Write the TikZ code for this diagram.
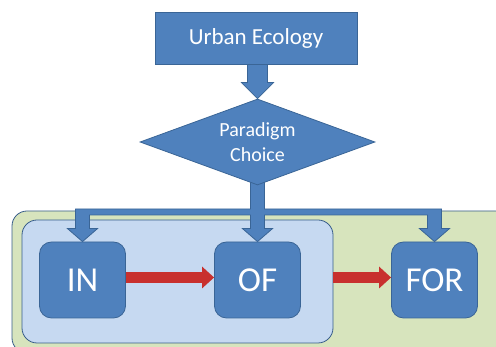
\documentclass[tikz,border=0pt]{standalone}
\usepackage{fontspec}
\setmainfont{Carlito}
\usetikzlibrary{shapes.geometric,arrows.meta,calc}
\definecolor{boxfill}{HTML}{4F81BD}
\definecolor{boxline}{HTML}{3A6596}
\definecolor{paleblue}{HTML}{C6D9F1}
\definecolor{palegreen}{HTML}{D7E4BD}
\definecolor{frameline}{HTML}{385D8A}
\definecolor{redarrow}{HTML}{C8302E}
\pgfdeclarelayer{bg}
\pgfdeclarelayer{under}
\pgfsetlayers{bg,under,main}
\tikzset{
  titlebox/.style={draw=boxline, fill=boxfill, line width=0.8pt, minimum width=202pt, minimum height=52pt, text=white, font=\fontsize{23}{27}\selectfont},
  choice/.style={diamond, draw=boxline, fill=boxfill, line width=0.8pt, aspect=2.73, inner sep=0pt, minimum width=235pt, minimum height=86pt, text=white, align=center, font=\fontsize{20}{25}\selectfont},
  stage/.style={draw=boxline, fill=boxfill, line width=0.8pt, rounded corners=12pt, minimum width=86pt, minimum height=76pt, text=white, font=\fontsize{35}{40}\selectfont},
  frame/.style={draw=frameline, line width=0.8pt, rounded corners=15pt, inner sep=0pt},
  blockarrow/.style={draw=boxline, fill=boxfill, line width=0.8pt, line join=miter},
  redlink/.style={redarrow, line width=11pt, -{Triangle[width=21pt,length=12pt]}}
}
\begin{document}
\begin{tikzpicture}[x=1pt,y=1pt]
  \useasboundingbox (0,0) rectangle (496,347);
  \clip (0,0) rectangle (496,347);
  % main nodes
  \node[titlebox] (ue) at (256,309) {Urban Ecology};
  \node[choice] (pc) at (257.5,205) {Paradigm\\Choice};
  \node[stage] (in) at (82.5,67) {IN};
  \node[stage] (of) at (257.5,67) {OF};
  \node[stage] (fr) at (434.5,67) {FOR};
  % frames behind the stages
  \begin{pgfonlayer}{bg}
    \node[frame, fill=palegreen, minimum width=498pt, minimum height=142pt] (scope) at (261,65) {};
    \node[frame, fill=paleblue, minimum width=311pt, minimum height=123pt] (inof) at (177.5,65.5) {};
  \end{pgfonlayer}
  % block arrows
  \begin{pgfonlayer}{under}
    \path[blockarrow] let \p1=(ue.center), \p2=(pc.north) in
      (\x2-10pt,\y1) -- (\x2-10pt,\y2+16pt) -- (\x2-16pt,\y2+16pt) -- (\x2,\y2)
      -- (\x2+16pt,\y2+16pt) -- (\x2+10pt,\y2+16pt) -- (\x2+10pt,\y1) -- cycle;
    \path[blockarrow] let \p1=(pc.center), \p2=(in.north), \p3=(of.north), \p4=(fr.north) in
      (\x3-7pt,\y1) -- (\x3-7pt,138pt) -- (\x2-7pt,138pt) -- (\x2-7pt,\y2+13pt)
      -- (\x2-15pt,\y2+13pt) -- (\x2,\y2) -- (\x2+15pt,\y2+13pt) -- (\x2+7pt,\y2+13pt)
      -- (\x2+7pt,132pt) -- (\x3-7pt,132pt) -- (\x3-7pt,\y3+13pt)
      -- (\x3-15pt,\y3+13pt) -- (\x3,\y3) -- (\x3+15pt,\y3+13pt) -- (\x3+7pt,\y3+13pt)
      -- (\x3+7pt,132pt) -- (\x4-7pt,132pt) -- (\x4-7pt,\y4+13pt)
      -- (\x4-15pt,\y4+13pt) -- (\x4,\y4) -- (\x4+15pt,\y4+13pt) -- (\x4+7pt,\y4+13pt)
      -- (\x4+7pt,138pt) -- (\x3+7pt,138pt) -- (\x3+7pt,\y1) -- cycle;
  \end{pgfonlayer}
  % red links
  \draw[redlink] ([yshift=2.5pt]in.east) -- ([yshift=2.5pt]of.west);
  \draw[redlink] ([yshift=2.5pt]inof.east |- of.east) -- ([yshift=2.5pt]fr.west);
\end{tikzpicture}
\end{document}
